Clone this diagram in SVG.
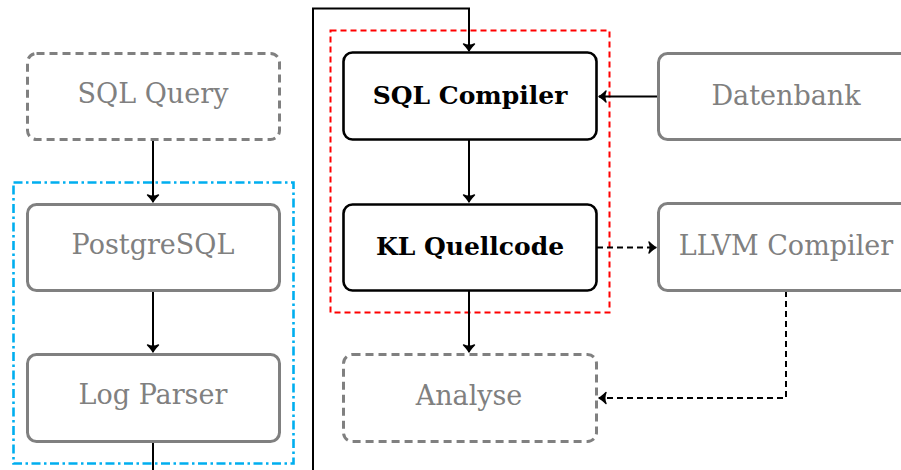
<svg xmlns="http://www.w3.org/2000/svg" width="901" height="470" viewBox="0 0 901 470">
<defs>
<style>
.gb{fill:#fff;stroke:#808080;stroke-width:3}
.gd{fill:#fff;stroke:#808080;stroke-width:3;stroke-dasharray:8 5}
.bb{fill:#fff;stroke:#000;stroke-width:2.6}
.gt{font-family:"DejaVu Serif","Liberation Serif",serif;font-size:27px;fill:#808080;text-anchor:middle}
.bt{font-family:"DejaVu Serif","Liberation Serif",serif;font-size:25px;font-weight:bold;fill:#000;text-anchor:middle}
.c{fill:none;stroke:#000;stroke-width:2}
.cd{fill:none;stroke:#000;stroke-width:2;stroke-dasharray:6 4}
</style>
<marker id="ah" markerUnits="userSpaceOnUse" markerWidth="14" markerHeight="14" viewBox="-10 -7 12 14" refX="0" refY="0" orient="auto">
<path d="M-7,-5.5 Q-2.5,-1 0,0 Q-2.5,1 -7,5.5 Q-4.5,0 -7,-5.5 Z" fill="#000" stroke="#000" stroke-width="1.4" stroke-linejoin="round"/>
</marker>
</defs>
<g id="group-left">
<rect x="13.5" y="182.5" width="280" height="281" fill="none" stroke="#00aeef" stroke-width="2.6" stroke-dasharray="9 3.5 2.5 3.5"/>
</g>
<g id="group-right">
<rect x="330.5" y="30.5" width="279" height="282" fill="none" stroke="#ff0000" stroke-width="2" stroke-dasharray="6 4"/>
</g>
<g id="connectors">
<path class="c" d="M153 442 V490 H313 V8.5 H469 V51" marker-end="url(#ah)"/>
<path class="c" d="M153 140 V202" marker-end="url(#ah)"/>
<path class="c" d="M153 291 V352" marker-end="url(#ah)"/>
<path class="c" d="M469 140 V202" marker-end="url(#ah)"/>
<path class="c" d="M469 291 V352" marker-end="url(#ah)"/>
<path class="c" d="M658 96.5 H599" marker-end="url(#ah)"/>
<path class="cd" d="M597 247.5 H656" marker-end="url(#ah)"/>
<path class="cd" d="M786 291 V398 H599" marker-end="url(#ah)"/>
</g>
<g id="sql-query">
<rect class="gd" x="27.5" y="53.5" width="252" height="86" rx="9"/>
<text class="gt" x="153" y="103">SQL Query</text>
</g>
<g id="postgresql">
<rect class="gb" x="27.5" y="204.5" width="252" height="86" rx="9"/>
<text class="gt" x="153" y="254">PostgreSQL</text>
</g>
<g id="log-parser">
<rect class="gb" x="27.5" y="354.5" width="252" height="87" rx="9"/>
<text class="gt" x="153" y="404">Log Parser</text>
</g>
<g id="sql-compiler">
<rect class="bb" x="343.5" y="52.5" width="253" height="87" rx="9"/>
<text class="bt" x="470" y="104">SQL Compiler</text>
</g>
<g id="kl-quellcode">
<rect class="bb" x="343.5" y="204.5" width="253" height="86" rx="9"/>
<text class="bt" x="470" y="255">KL Quellcode</text>
</g>
<g id="analyse">
<rect class="gd" x="343.5" y="354.5" width="253" height="87" rx="9"/>
<text class="gt" x="469" y="405">Analyse</text>
</g>
<g id="datenbank">
<rect class="gb" x="658.5" y="53.5" width="254" height="86" rx="9"/>
<text class="gt" x="786" y="105">Datenbank</text>
</g>
<g id="llvm-compiler">
<rect class="gb" x="658.5" y="203.5" width="254" height="87" rx="9"/>
<text class="gt" x="786" y="255">LLVM Compiler</text>
</g>
</svg>
